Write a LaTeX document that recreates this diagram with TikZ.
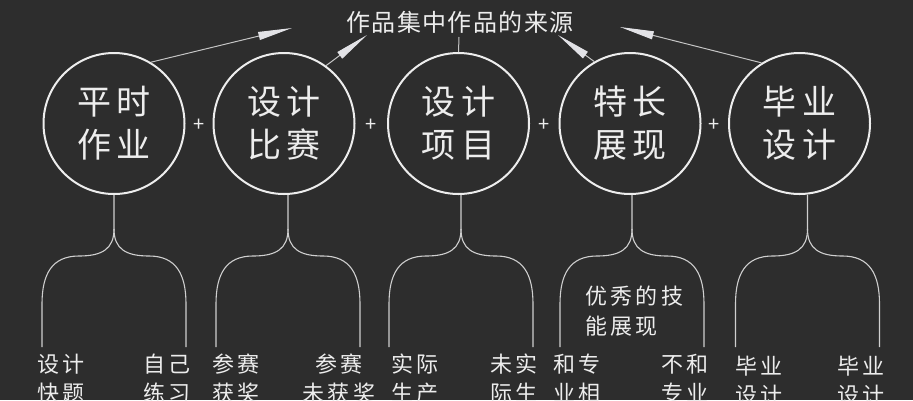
\documentclass[tikz,border=0pt]{standalone}
\usepackage{fontspec}
\newfontfamily\cjk{Noto Sans CJK SC}
\newfontfamily\cjkcirc{Noto Sans CJK SC}[LetterSpace=17]
\newfontfamily\cjklab{Noto Sans CJK SC}[LetterSpace=15]
\newfontfamily\cjktitle{Noto Sans CJK SC}[LetterSpace=6]
\usetikzlibrary{arrows.meta}
\definecolor{bg}{HTML}{2D2D2D}
\definecolor{fg}{HTML}{EDEDED}
\definecolor{legc}{HTML}{CFCFCF}
\definecolor{arrc}{HTML}{C4C4C4}
\definecolor{headc}{HTML}{E2E2E6}
\begin{document}
\begin{tikzpicture}[x=1pt,y=-1pt,
  circ/.style={circle,draw=fg,line width=2pt,minimum size=141pt,inner sep=0pt,
    text=fg,align=center,font=\cjkcirc\fontsize{34}{43}\selectfont},
  lab/.style={text=fg,inner sep=0pt,font=\cjklab\fontsize{22}{29}\selectfont},
  midlab/.style={text=fg,inner sep=0pt,align=left,font=\cjklab\fontsize{22}{30}\selectfont},
  plus/.style={text=fg,inner sep=0pt,font=\cjk\fontsize{20}{20}\selectfont},
  ttl/.style={text=fg,inner sep=0pt,font=\cjktitle\fontsize{24}{24}\selectfont},
  leg/.style={draw=legc,line width=1.1pt},
  arr/.style={draw=arrc,line width=1pt,-{Triangle[length=34pt,width=8pt,fill=headc,color=headc]}},
  plain/.style={draw=arrc,line width=1pt},
]
\fill[bg] (0,0) rectangle (913,400);
\useasboundingbox (0,0) rectangle (913,400);

% title
\node[ttl] (title) at (460,22) {作品集中作品的来源};

% circles
\node[circ] (c1) at (114,123.5) {平时\\作业};
\node[circ] (c2) at (284,123.5) {设计\\比赛};
\node[circ] (c3) at (458.5,123.5) {设计\\项目};
\node[circ] (c4) at (630,123.5) {特长\\展现};
\node[circ] (c5) at (799.5,123.5) {毕业\\设计};

% plus signs
\node[plus] (p1) at (199,125) {+};
\node[plus] (p2) at (371,125) {+};
\node[plus] (p3) at (544,125) {+};
\node[plus] (p4) at (714,125) {+};

% arrows to title
\coordinate (t1) at (292,28);
\coordinate (t2) at (367,35);
\coordinate (t3) at (459,37);
\coordinate (t4) at (558,35);
\coordinate (t5) at (620,27);
\draw[arr] (c1.59) -- (t1);
\draw[arr] (c2.54) -- (t2);
\draw[plain] (c3.north) -- (t3);
\draw[arr] (c4.120) -- (t4);
\draw[arr] (c5.122) -- (t5);

% legs
\foreach \i/\dx in {1/0,2/4,3/2.5,4/2,5/8}{
  \draw[leg] ([xshift=\dx pt]c\i.south) -- ++(0,34) coordinate (s\i)
    .. controls +(0,20) and +(23,0) .. ++(-35,27)
    .. controls +(-27,0) and +(0,-30) .. ++(-37,48) -- ++(0,43) coordinate (l\i);
  \draw[leg] (s\i)
    .. controls +(0,20) and +(-23,0) .. ++(35,27)
    .. controls +(27,0) and +(0,-30) .. ++(37,48) -- ++(0,43) coordinate (r\i);
}

% labels
\node[lab,anchor=north west,align=left] (a1) at (37,354) {设计\\快题};
\node[lab,anchor=north east,align=right] (b1) at (191,354) {自己\\练习};
\node[lab,anchor=north west,align=left] (a2) at (212,354) {参赛\\获奖};
\node[lab,anchor=north,align=center] (b2) at (339,354) {参赛\\未获奖};
\node[lab,anchor=north west,align=left] (a3) at (391,354) {实际\\生产};
\node[lab,anchor=north east,align=right] (b3) at (538,354) {未实\\际生};
\node[lab,anchor=north west,align=left] (a4) at (553,354) {和专\\业相};
\node[lab,anchor=north east,align=right] (b4) at (709,354) {不和\\专业};
\node[lab,anchor=north west,align=left] (a5) at (735,356) {毕业\\设计};
\node[lab,anchor=north east,align=right] (b5) at (885,356) {毕业\\设计};
\node[midlab,anchor=north west] (m4) at (585,286) {优秀的技\\能展现};
\end{tikzpicture}
\end{document}
